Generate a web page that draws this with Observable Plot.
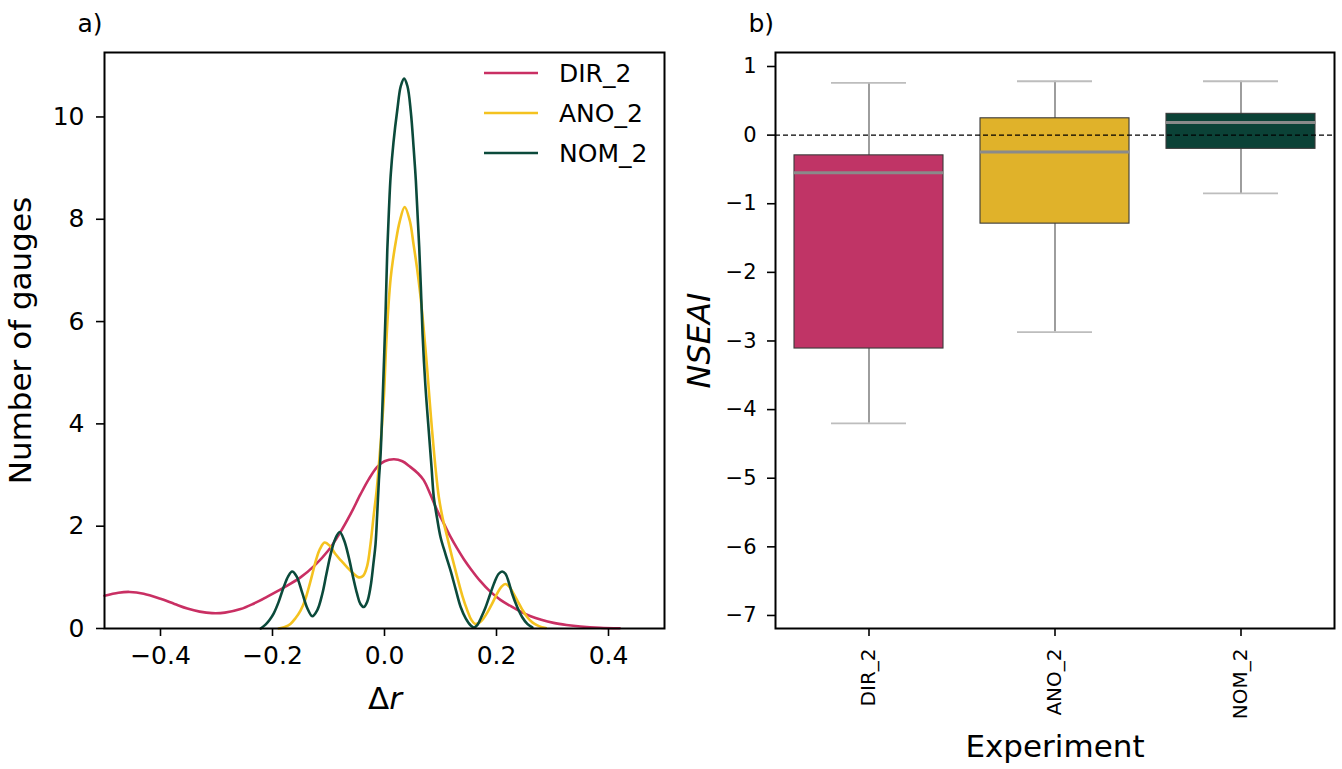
<!DOCTYPE html>
<html>
<head>
<meta charset="utf-8">
<script src="https://cdn.jsdelivr.net/npm/d3@7"></script>
<script src="https://cdn.jsdelivr.net/npm/@observablehq/plot@0.6"></script>
<style>
  html, body { margin: 0; padding: 0; background: white; }
  #root { position: relative; width: 1342px; height: 769px; overflow: hidden; background: white; font-family: "DejaVu Sans", sans-serif; }
  #left, #right { position: absolute; top: 0; }
  #left { left: 0; }
  #right { left: 680px; }
  #legend { position: absolute; left: 0; top: 0; pointer-events: none; }
</style>
</head>
<body>
<div id="root">
  <div id="left"></div>
  <div id="right"></div>
</div>
<script>
// ---------- Panel a) data: KDE curves ----------
const series = ["DIR_2", "ANO_2", "NOM_2"];
const lineColors = ["#c92f63", "#f4c21f", "#0b4a3b"];

const dirX = [-0.500,-0.475,-0.455,-0.430,-0.400,-0.375,-0.352,-0.330,-0.308,-0.285,-0.257,-0.235,-0.210,-0.180,-0.150,-0.125,-0.100,-0.079,-0.060,-0.043,-0.028,-0.013,0.000,0.017,0.032,0.046,0.060,0.070,0.082,0.094,0.106,0.118,0.130,0.142,0.155,0.170,0.189,0.207,0.225,0.243,0.261,0.280,0.302,0.325,0.350,0.385,0.420];
const dirY = [0.64,0.70,0.715,0.68,0.58,0.48,0.39,0.33,0.30,0.31,0.38,0.48,0.62,0.80,1.00,1.23,1.53,1.88,2.25,2.62,2.92,3.16,3.27,3.31,3.27,3.16,3.03,2.90,2.62,2.31,2.05,1.79,1.56,1.35,1.15,0.94,0.72,0.56,0.44,0.33,0.24,0.17,0.11,0.07,0.04,0.015,0.005];

const anoX = [-0.189,-0.178,-0.168,-0.159,-0.150,-0.142,-0.135,-0.128,-0.122,-0.115,-0.107,-0.098,-0.088,-0.077,-0.067,-0.056,-0.046,-0.038,-0.031,-0.025,-0.019,-0.014,-0.010,-0.005,-0.001,0.003,0.007,0.011,0.015,0.020,0.027,0.036,0.045,0.052,0.058,0.064,0.070,0.076,0.081,0.085,0.091,0.097,0.104,0.112,0.121,0.130,0.139,0.148,0.155,0.162,0.170,0.177,0.183,0.192,0.201,0.209,0.216,0.224,0.231,0.237,0.246,0.255,0.264,0.273,0.281,0.288];
const anoY = [0.00,0.03,0.09,0.20,0.35,0.55,0.81,1.10,1.35,1.56,1.68,1.62,1.46,1.32,1.20,1.08,1.00,1.03,1.22,1.65,2.24,2.70,3.20,3.90,4.55,5.55,6.30,6.85,7.20,7.55,7.95,8.24,7.98,7.50,7.05,6.52,5.85,5.10,4.40,3.87,3.15,2.57,2.15,1.79,1.38,1.00,0.64,0.35,0.17,0.09,0.12,0.20,0.30,0.48,0.68,0.82,0.87,0.80,0.67,0.55,0.37,0.22,0.12,0.06,0.025,0.01];

const nomX = [-0.221,-0.212,-0.205,-0.198,-0.189,-0.180,-0.172,-0.165,-0.157,-0.147,-0.138,-0.129,-0.120,-0.111,-0.104,-0.096,-0.088,-0.080,-0.072,-0.064,-0.056,-0.049,-0.043,-0.037,-0.031,-0.025,-0.020,-0.016,-0.013,-0.010,-0.007,-0.004,-0.001,0.002,0.005,0.008,0.011,0.016,0.023,0.029,0.035,0.041,0.047,0.052,0.056,0.059,0.062,0.065,0.068,0.073,0.079,0.084,0.088,0.094,0.100,0.109,0.118,0.127,0.136,0.145,0.154,0.160,0.166,0.172,0.180,0.189,0.197,0.204,0.210,0.216,0.222,0.228,0.237,0.246,0.255,0.264];
const nomY = [0.00,0.08,0.17,0.29,0.52,0.81,1.02,1.115,1.02,0.70,0.40,0.24,0.36,0.68,1.05,1.46,1.75,1.885,1.72,1.40,1.00,0.68,0.48,0.42,0.52,0.81,1.25,1.65,2.24,2.90,3.40,4.25,5.20,6.20,7.40,8.20,8.85,9.50,10.15,10.60,10.75,10.60,10.10,9.40,8.75,8.10,7.45,6.65,5.75,4.75,3.87,3.15,2.57,2.15,1.79,1.45,1.13,0.77,0.42,0.20,0.06,0.02,0.07,0.20,0.40,0.68,0.92,1.07,1.115,1.07,0.90,0.68,0.42,0.22,0.09,0.02];

const kdeXTicks = [-0.4, -0.2, 0.0, 0.2, 0.4];
const kdeYTicks = [0, 2, 4, 6, 8, 10];

// ---------- Panel b) data: box plot summaries ----------
const experiments = ["DIR_2", "ANO_2", "NOM_2"];
const boxColors = ["#c03466", "#e0b22a", "#0b4237"];
const whiskerLow  = [-4.20, -2.87, -0.85];
const q1          = [-3.11, -1.29, -0.20];
const medians     = [-0.55, -0.245, 0.185];
const q3          = [-0.295, 0.245, 0.31];
const whiskerHigh = [0.76, 0.785, 0.785];
const nseTicks = [1, 0, -1, -2, -3, -4, -5, -6, -7];

// ---------- build tables ----------
const kdeRows = [];
[[dirX, dirY], [anoX, anoY], [nomX, nomY]].forEach(([xs, ys], i) => {
  xs.forEach((x, j) => kdeRows.push({series: series[i], dr: x, v: ys[j]}));
});
const boxRows = experiments.map((e, i) => ({
  exp: e, lo: whiskerLow[i], q1: q1[i], med: medians[i], q3: q3[i], hi: whiskerHigh[i]
}));

const minus = s => String(s).replace("-", "\u2212");
const fmt1 = d => minus(d.toFixed(1));
const fmt0 = d => minus(String(d));
const FONT = "DejaVu Sans";

// ---------- Panel a) ----------
const left = Plot.plot({
  width: 680, height: 769,
  marginLeft: 104, marginRight: 16, marginTop: 52, marginBottom: 141,
  style: {fontFamily: FONT, fontSize: "25px", color: "black", background: "white", overflow: "visible"},
  x: {domain: [-0.5, 0.5]},
  y: {domain: [0, 11.26]},
  color: {domain: series, range: lineColors},
  marks: [
    Plot.line(kdeRows, {x: "dr", y: "v", z: "series", stroke: "series", curve: "catmull-rom", strokeWidth: 2.6}),
    Plot.axisX({ticks: kdeXTicks, tickFormat: fmt1, tickSize: 8, tickPadding: 10, fontSize: 25, strokeWidth: 1.6, label: null}),
    Plot.axisY({ticks: kdeYTicks, tickFormat: fmt0, tickSize: 8, tickPadding: 12, fontSize: 25, strokeWidth: 1.6, label: null}),
    Plot.frame({stroke: "black", strokeWidth: 2}),
    Plot.text(["\u0394"], {text: d => d, frameAnchor: "bottom", lineAnchor: "middle", textAnchor: "middle", dx: -6, dy: 71, fontSize: 31}),
    Plot.text(["r"], {text: d => d, frameAnchor: "bottom", lineAnchor: "middle", textAnchor: "middle", dx: 11, dy: 71, fontSize: 31, fontStyle: "italic"}),
    Plot.text(["Number of gauges"], {text: d => d, frameAnchor: "left", lineAnchor: "middle", textAnchor: "middle", dx: -83, rotate: -90, fontSize: 31}),
    Plot.text(["a)"], {text: d => d, frameAnchor: "top-left", lineAnchor: "middle", textAnchor: "start", dx: -27, dy: -29, fontSize: 25})
  ]
});
document.getElementById("left").appendChild(left);

// legend for panel a)
const legNS = "http://www.w3.org/2000/svg";
const leg = document.createElementNS(legNS, "svg");
leg.setAttribute("id", "legend");
leg.setAttribute("width", 680);
leg.setAttribute("height", 200);
series.forEach((s, i) => {
  const yy = 73 + i * 40;
  const ln = document.createElementNS(legNS, "line");
  ln.setAttribute("x1", 484); ln.setAttribute("x2", 538);
  ln.setAttribute("y1", yy); ln.setAttribute("y2", yy);
  ln.setAttribute("stroke", lineColors[i]); ln.setAttribute("stroke-width", 2.6);
  leg.appendChild(ln);
  const tx = document.createElementNS(legNS, "text");
  tx.setAttribute("x", 559); tx.setAttribute("y", yy);
  tx.setAttribute("dy", "0.35em");
  tx.setAttribute("font-family", FONT); tx.setAttribute("font-size", 25);
  tx.setAttribute("fill", "black");
  tx.textContent = s;
  leg.appendChild(tx);
});
document.getElementById("left").appendChild(leg);

// ---------- Panel b) ----------
const right = Plot.plot({
  width: 662, height: 769,
  marginLeft: 95, marginRight: 8, marginTop: 52, marginBottom: 141,
  style: {fontFamily: FONT, fontSize: "21px", color: "black", background: "white", overflow: "visible"},
  x: {type: "band", domain: experiments, paddingInner: 0.2, paddingOuter: 0.1},
  y: {domain: [-7.19, 1.204]},
  color: {domain: experiments, range: boxColors},
  marks: [
    Plot.ruleX(boxRows, {x: "exp", y1: "lo", y2: "hi", stroke: "#4d4d4d", strokeWidth: 1.1}),
    Plot.tickY(boxRows, {x: "exp", y: "lo", stroke: "#bdbdbd", strokeWidth: 1.8, insetLeft: 37, insetRight: 37}),
    Plot.tickY(boxRows, {x: "exp", y: "hi", stroke: "#bdbdbd", strokeWidth: 1.8, insetLeft: 37, insetRight: 37}),
    Plot.barY(boxRows, {x: "exp", y1: "q1", y2: "q3", fill: "exp", stroke: "#3a3a3a", strokeWidth: 1.1}),
    Plot.ruleY([0], {stroke: "black", strokeWidth: 1.3, strokeDasharray: "5,3"}),
    Plot.tickY(boxRows, {x: "exp", y: "med", stroke: "#8a8a8a", strokeWidth: 3}),
    Plot.axisX({tickRotate: -90, tickSize: 8, tickPadding: 12, fontSize: 20, strokeWidth: 1.6, label: null}),
    Plot.axisY({ticks: nseTicks, tickFormat: fmt0, tickSize: 8, tickPadding: 11, fontSize: 21, strokeWidth: 1.6, label: null}),
    Plot.frame({stroke: "black", strokeWidth: 2}),
    Plot.text(["NSEAI"], {text: d => d, frameAnchor: "left", lineAnchor: "middle", textAnchor: "middle", dx: -76, rotate: -90, fontSize: 32, fontStyle: "italic"}),
    Plot.text(["Experiment"], {text: d => d, frameAnchor: "bottom", lineAnchor: "middle", textAnchor: "middle", dy: 119, fontSize: 31}),
    Plot.text(["b)"], {text: d => d, frameAnchor: "top-left", lineAnchor: "middle", textAnchor: "start", dx: -27, dy: -29, fontSize: 25})
  ]
});
document.getElementById("right").appendChild(right);
</script>
</body>
</html>
